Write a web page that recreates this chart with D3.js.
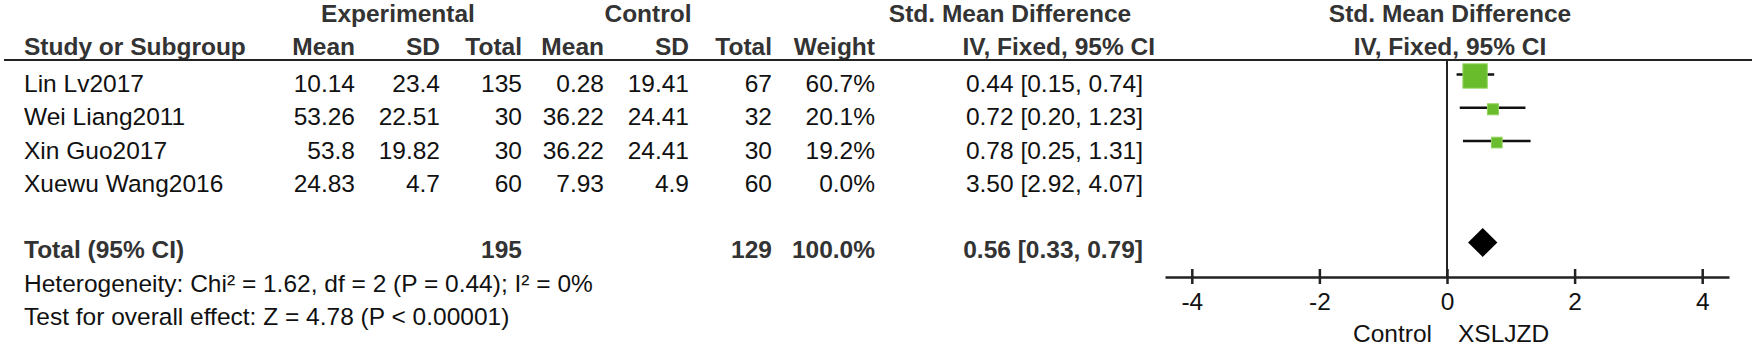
<!DOCTYPE html>
<html>
<head>
<meta charset="utf-8">
<script src="https://cdn.jsdelivr.net/npm/d3@7"></script>
<style>
	body { margin: 0; background: #fff; }
	svg text { font-family: 'Liberation Sans', Arial, sans-serif; }
</style>
</head>
<body>
<div id="forest"></div>
<script>
// study rows
const studies = ['Lin Lv2017', 'Wei Liang2011', 'Xin Guo2017', 'Xuewu Wang2016'];
const expMean = [10.14, 53.26, 53.8, 24.83];
const expSD = [23.4, 22.51, 19.82, 4.7];
const expTotal = [135, 30, 30, 60];
const ctrlMean = [0.28, 36.22, 36.22, 7.93];
const ctrlSD = [19.41, 24.41, 24.41, 4.9];
const ctrlTotal = [67, 32, 30, 60];
const weights = [60.7, 20.1, 19.2, 0.0];
const smd = [0.44, 0.72, 0.78, 3.50];
const ciLow = [0.15, 0.20, 0.25, 2.92];
const ciHigh = [0.74, 1.23, 1.31, 4.07];

// pooled row
const totalLabel = 'Total (95% CI)';
const totalExp = 195;
const totalCtrl = 129;
const totalWeight = 100.0;
const pooled = [0.56, 0.33, 0.79]; // estimate, low, high

const heterogeneity = 'Heterogeneity: Chi² = 1.62, df = 2 (P = 0.44); I² = 0%';
const overallTest = 'Test for overall effect: Z = 4.78 (P < 0.00001)';

const xTicks = [-4, -2, 0, 2, 4];
const favoursLeft = 'Control';
const favoursRight = 'XSLJZD';

class ForestPlot {
	constructor(_config) {
		this.config = {
			parentElement: _config.parentElement,
			containerWidth: _config.containerWidth || 1756,
			containerHeight: _config.containerHeight || 346,
			fontSize: 24.5,
			textX: 24,
			headerY: [22, 55],
			ruleY: 60,
			axisY: 277,
			plotRange: [1165, 1729],
			axisExtent: 4.42,
		}
		this.initVis();
	}

	initVis() {
		const vis = this;
		const c = vis.config;

		vis.svg = d3.select(c.parentElement).append('svg')
			.attr('width', c.containerWidth)
			.attr('height', c.containerHeight);

		// row index -> y of row centre
		vis.yScale = d3.scaleLinear().domain([0, 7]).range([76, 309]);
		// effect size -> x
		vis.xScale = d3.scaleLinear().domain([-c.axisExtent, c.axisExtent]).range(c.plotRange);
		// weight -> square side
		vis.sizeScale = d3.scaleLinear().domain([0, 100]).range([4.4, 37.2]);

		// column right edges of the table
		vis.cols = {
			expMean: 355, expSD: 440, expTotal: 522,
			ctrlMean: 604, ctrlSD: 689, ctrlTotal: 772,
			weight: 875, ci: 1143,
		};

		vis.table = vis.svg.append('g').attr('class', 'table');
		vis.plot = vis.svg.append('g').attr('class', 'plot');

		vis.renderVis();
	}

	text(g, x, y, str, anchor, bold) {
		return g.append('text')
			.attr('x', x)
			.attr('y', y)
			.attr('text-anchor', anchor || 'start')
			.attr('font-size', this.config.fontSize)
			.attr('font-weight', bold ? 'bold' : 'normal')
			.attr('fill', bold ? '#333' : '#111')
			.text(str);
	}

	renderVis() {
		const vis = this;
		const c = vis.config;
		const t = vis.table;
		const f1 = d3.format('.1f');
		const f2 = d3.format('.2f');
		const zeroX = vis.xScale(0);

		// headers
		vis.text(t, 398, c.headerY[0], 'Experimental', 'middle', true);
		vis.text(t, 648, c.headerY[0], 'Control', 'middle', true);
		vis.text(t, 1010, c.headerY[0], 'Std. Mean Difference', 'middle', true);
		vis.text(t, zeroX + 3, c.headerY[0], 'Std. Mean Difference', 'middle', true);

		vis.text(t, c.textX, c.headerY[1], 'Study or Subgroup', 'start', true);
		vis.text(t, vis.cols.expMean, c.headerY[1], 'Mean', 'end', true);
		vis.text(t, vis.cols.expSD, c.headerY[1], 'SD', 'end', true);
		vis.text(t, vis.cols.expTotal, c.headerY[1], 'Total', 'end', true);
		vis.text(t, vis.cols.ctrlMean, c.headerY[1], 'Mean', 'end', true);
		vis.text(t, vis.cols.ctrlSD, c.headerY[1], 'SD', 'end', true);
		vis.text(t, vis.cols.ctrlTotal, c.headerY[1], 'Total', 'end', true);
		vis.text(t, vis.cols.weight, c.headerY[1], 'Weight', 'end', true);
		vis.text(t, 1155, c.headerY[1], 'IV, Fixed, 95% CI', 'end', true);
		vis.text(t, zeroX + 3, c.headerY[1], 'IV, Fixed, 95% CI', 'middle', true);

		// rule under header
		t.append('line')
			.attr('x1', 4).attr('x2', 1752)
			.attr('y1', c.ruleY).attr('y2', c.ruleY)
			.attr('stroke', '#222').attr('stroke-width', 2);

		// study rows
		studies.forEach((s, i) => {
			const y = vis.yScale(i) + 16;
			vis.text(t, c.textX, y, s);
			vis.text(t, vis.cols.expMean, y, expMean[i], 'end');
			vis.text(t, vis.cols.expSD, y, expSD[i], 'end');
			vis.text(t, vis.cols.expTotal, y, expTotal[i], 'end');
			vis.text(t, vis.cols.ctrlMean, y, ctrlMean[i], 'end');
			vis.text(t, vis.cols.ctrlSD, y, ctrlSD[i], 'end');
			vis.text(t, vis.cols.ctrlTotal, y, ctrlTotal[i], 'end');
			vis.text(t, vis.cols.weight, y, f1(weights[i]) + '%', 'end');
			vis.text(t, vis.cols.ci, y, `${f2(smd[i])} [${f2(ciLow[i])}, ${f2(ciHigh[i])}]`, 'end');
		});

		// total row
		const ty = vis.yScale(5) + 16;
		vis.text(t, c.textX, ty, totalLabel, 'start', true);
		vis.text(t, vis.cols.expTotal, ty, totalExp, 'end', true);
		vis.text(t, vis.cols.ctrlTotal, ty, totalCtrl, 'end', true);
		vis.text(t, vis.cols.weight, ty, f1(totalWeight) + '%', 'end', true);
		vis.text(t, vis.cols.ci, ty, `${f2(pooled[0])} [${f2(pooled[1])}, ${f2(pooled[2])}]`, 'end', true);

		vis.text(t, c.textX, vis.yScale(6) + 16, heterogeneity);
		vis.text(t, c.textX, vis.yScale(7) + 16, overallTest);

		// zero line
		vis.plot.append('line')
			.attr('x1', zeroX).attr('x2', zeroX)
			.attr('y1', c.ruleY).attr('y2', c.axisY)
			.attr('stroke', '#222').attr('stroke-width', 2);

		// CI whiskers and weight squares (studies with weight only)
		const rows = studies.map((s, i) => ({ i, w: weights[i], est: smd[i], lo: ciLow[i], hi: ciHigh[i] }))
			.filter(d => d.w > 0);

		vis.plot.selectAll('.ci-line')
			.data(rows)
			.join('line')
			.attr('class', 'ci-line')
			.attr('x1', d => vis.xScale(d.lo))
			.attr('x2', d => vis.xScale(d.hi))
			.attr('y1', d => vis.yScale(d.i) - 1.5)
			.attr('y2', d => vis.yScale(d.i) - 1.5)
			.attr('stroke', '#111')
			.attr('stroke-width', 2.6);

		vis.plot.selectAll('.study-box')
			.data(rows)
			.join('rect')
			.attr('class', 'study-box')
			.attr('x', d => vis.xScale(d.est) - vis.sizeScale(d.w) / 2)
			.attr('y', d => vis.yScale(d.i) - vis.sizeScale(d.w) / 2)
			.attr('width', d => vis.sizeScale(d.w))
			.attr('height', d => vis.sizeScale(d.w))
			.attr('fill', '#69bd2d')
			.attr('stroke', '#8fd45c')
			.attr('stroke-width', 1);

		// pooled diamond
		const dy = vis.yScale(5);
		const half = 14.5;
		vis.plot.append('path')
			.attr('d', `M${vis.xScale(pooled[1])},${dy} L${vis.xScale(pooled[0])},${dy - half} L${vis.xScale(pooled[2])},${dy} L${vis.xScale(pooled[0])},${dy + half} Z`)
			.attr('fill', '#000');

		// x axis
		const xAxis = d3.axisBottom(vis.xScale)
			.tickValues(xTicks)
			.tickSizeOuter(0)
			.tickFormat(d => d);
		const axisG = vis.plot.append('g')
			.attr('class', 'axis x-axis')
			.attr('transform', `translate(0, ${c.axisY})`)
			.call(xAxis);
		axisG.select('.domain').attr('stroke', '#222').attr('stroke-width', 2.5);
		axisG.selectAll('.tick line')
			.attr('y1', -8).attr('y2', 7)
			.attr('stroke', '#222').attr('stroke-width', 2.5);
		axisG.selectAll('.tick text')
			.attr('y', 33).attr('dy', 0)
			.attr('font-size', c.fontSize)
			.attr('font-family', "'Liberation Sans', Arial, sans-serif")
			.attr('fill', '#111');

		// favours labels
		vis.text(vis.plot, zeroX - 15, 342, favoursLeft, 'end');
		vis.text(vis.plot, zeroX + 11, 342, favoursRight, 'start');
	}
}

const forest = new ForestPlot({ parentElement: '#forest' });
</script>
</body>
</html>
